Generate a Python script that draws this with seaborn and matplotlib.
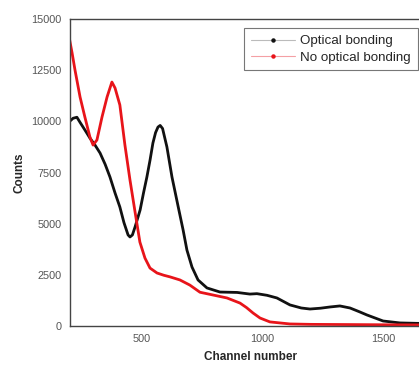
import matplotlib
matplotlib.use("Agg")
import matplotlib.pyplot as plt
from matplotlib.lines import Line2D
from matplotlib.ticker import MultipleLocator
import seaborn as sns
import pandas as pd

bond_channel = [200, 214, 230, 243, 263, 284, 305, 326, 347, 367, 388, 408, 425, 442, 450,
                460, 471, 492, 506, 520, 533, 545, 556, 566, 575, 585, 603, 624, 650, 661,
                670, 686, 707, 732, 769, 823, 894, 947, 976, 1018, 1059, 1113, 1160, 1196,
                1240, 1279, 1320, 1362, 1400, 1432, 1499, 1569, 1640, 1700]
bond_counts = [10000, 10150, 10200, 9950, 9580, 9180, 8840, 8450, 7900, 7280, 6500, 5815, 5050,
               4450, 4350, 4450, 4840, 5670, 6500, 7280, 8100, 8940, 9450, 9720, 9800, 9650,
               8750, 7280, 5815, 5200, 4700, 3710, 2880, 2250, 1860, 1660, 1640, 1560, 1580,
               1500, 1370, 1030, 880, 830, 870, 930, 980, 880, 700, 540, 245, 150, 130, 120]

nobond_channel = [200, 210, 222, 243, 263, 284, 297, 313, 334, 355, 375, 388, 408, 429, 450,
                  471, 491, 512, 533, 562, 590, 616, 657, 698, 740, 794, 852, 906, 933, 960,
                  989, 1030, 1113, 1200, 1362, 1500, 1700]
nobond_counts = [13970, 13340, 12510, 11190, 10210, 9230, 8840, 9090, 10210, 11190, 11920,
                 11630, 10800, 8840, 7130, 5570, 4100, 3320, 2830, 2590, 2480, 2400, 2250,
                 2000, 1650, 1515, 1370, 1120, 900, 635, 390, 200, 100, 80, 70, 60, 50]

series_names = ["Optical bonding", "No optical bonding"]
series_colors = ["#111111", "#e8141a"]

df = pd.concat([
    pd.DataFrame({"Channel": bond_channel, "Counts": bond_counts, "Series": series_names[0]}),
    pd.DataFrame({"Channel": nobond_channel, "Counts": nobond_counts, "Series": series_names[1]}),
])

sns.set_style("white")
plt.rcParams["font.family"] = ["Liberation Sans", "DejaVu Sans"]

fig = plt.figure(figsize=(4.19, 3.67), dpi=100)
ax = fig.add_axes([0.1663, 0.1117, 0.8637, 0.8365])

sns.lineplot(data=df, x="Channel", y="Counts", hue="Series",
             palette=dict(zip(series_names, series_colors)),
             linewidth=2.0, ax=ax, legend=False, sort=False)

ax.set_xlim(200, 1700)
ax.set_ylim(0, 15000)
ax.xaxis.set_major_locator(MultipleLocator(500))
ax.xaxis.set_minor_locator(MultipleLocator(250))
ax.yaxis.set_major_locator(MultipleLocator(2500))
ax.yaxis.set_minor_locator(MultipleLocator(1250))
ax.tick_params(axis="both", which="major", direction="in", length=4, width=0.8,
               color="#444444", labelsize=7.8, labelcolor="#555555", pad=6)
ax.tick_params(axis="both", which="minor", direction="in", length=2.5, width=0.8,
               color="#444444")
for s in ["left", "bottom", "top"]:
    ax.spines[s].set_color("#444444")
    ax.spines[s].set_linewidth(1.0)
ax.spines["right"].set_visible(False)

ax.set_xlabel("Channel number", fontsize=8.5, fontweight="bold", labelpad=5)
ax.set_ylabel("Counts", fontsize=8.5, fontweight="bold", labelpad=4)

handles = [Line2D([0], [0], color="#bbbbbb" if i == 0 else "#f4a0a4", lw=0.8,
                  marker="o", markersize=2.2, markerfacecolor=c, markeredgecolor=c)
           for i, c in enumerate(series_colors)]
leg = ax.legend(handles, series_names, loc="upper left", bbox_to_anchor=(0.483, 0.97),
                fontsize=9.6, frameon=True, fancybox=False, handlelength=3.3,
                handletextpad=0.4, borderpad=0.5, labelspacing=0.3, borderaxespad=0)
leg.get_frame().set_edgecolor("#555555")
leg.get_frame().set_linewidth(0.8)

fig.savefig("out.png", dpi=100)
